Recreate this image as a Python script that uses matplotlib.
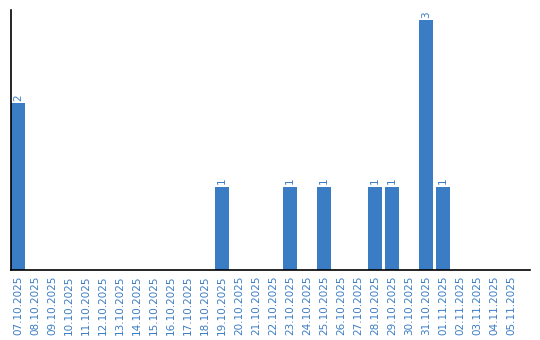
import matplotlib
matplotlib.use("Agg")
import matplotlib.pyplot as plt

dates = ["07.10.2025", "08.10.2025", "09.10.2025", "10.10.2025", "11.10.2025",
         "12.10.2025", "13.10.2025", "14.10.2025", "15.10.2025", "16.10.2025",
         "17.10.2025", "18.10.2025", "19.10.2025", "20.10.2025", "21.10.2025",
         "22.10.2025", "23.10.2025", "24.10.2025", "25.10.2025", "26.10.2025",
         "27.10.2025", "28.10.2025", "29.10.2025", "30.10.2025", "31.10.2025",
         "01.11.2025", "02.11.2025", "03.11.2025", "04.11.2025", "05.11.2025"]
counts = [2, 0, 0, 0, 0, 0, 0, 0, 0, 0, 0, 0, 1, 0, 0,
          0, 1, 0, 1, 0, 0, 1, 1, 0, 3, 1, 0, 0, 0, 0]

blue = "#3b7dc4"

fig = plt.figure(figsize=(5.4, 3.4), dpi=100)
ax = fig.add_axes([10.5 / 540, 1 - 270 / 340, 519.5 / 540, 260 / 340])

x = list(range(len(dates)))
ax.bar(x, counts, width=0.82, color=blue)

for i, c in enumerate(counts):
    if c > 0:
        ax.text(i, c + 0.03, str(c), rotation=90, ha="center", va="bottom",
                fontsize=7.5, color=blue)

ax.set_xlim(-0.44, 30.1)
ax.set_ylim(0, 3.12)
ax.set_xticks(x)
ax.set_xticklabels(dates, rotation=90, fontsize=7.5, color=blue)
ax.tick_params(axis="x", length=0, pad=4)
ax.set_yticks([])
ax.spines["top"].set_visible(False)
ax.spines["right"].set_visible(False)
ax.spines["left"].set_linewidth(1.2)
ax.spines["bottom"].set_linewidth(1.2)

plt.savefig("out.png", dpi=100)
